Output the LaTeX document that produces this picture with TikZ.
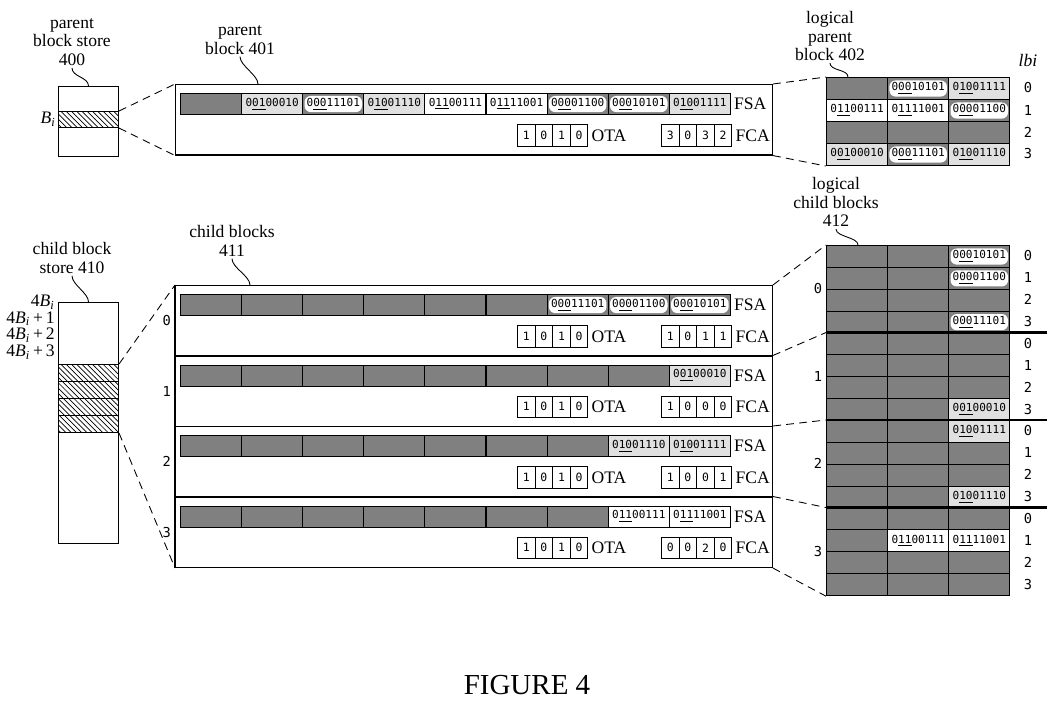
\documentclass[tikz,border=0pt]{standalone}
\usepackage{fontspec}
\setmainfont{Liberation Serif}
\newfontfamily\bitfont{DejaVu Sans Mono}
\usepackage{tikz}
\usetikzlibrary{patterns}
\colorlet{dk}{black!50}
\colorlet{lt}{black!12}
\newcommand\bitsu[3]{#1\underline{#2}#3}
\newcommand\Bi{\textit{B}\textsubscript{\textit{i}}}
% one block: name, top, last plain cell, filled cells, OTA, FCA
\newcommand\blk[6]{%
  \node[blkbox] (#1) at (175,#2) {};
  \foreach \k in {0,...,#3}
    \node[fsacell, fill=dk] (#1-\k) at ({180+61.1*\k},{#2+9}) {};
  \foreach \k/\f/\g/\s in {#4} {
    \node[fsacell, fill=\f] (#1-\k) at ({180+61.1*\k},{#2+9}) {};
    \node[bits, fill=\g] (#1-t\k) at (#1-\k) {\s};
  }
  \foreach \d [count=\j from 0] in {#5}
    \node[flag] (#1-o\j) at ({517+17.6*\j},{#2+40}) {\d};
  \foreach \d [count=\j from 0] in {#6}
    \node[flag] (#1-f\j) at ({661+17.6*\j},{#2+40}) {\d};
  \node[tag] (#1-fsa) at (#1-8.east) {FSA};
  \node[tag] (#1-ota) at (#1-o3.east) {OTA};
  \node[tag] (#1-fca) at (#1-f3.east) {FCA};
}

\begin{document}
\begin{tikzpicture}[
  x=0.02cm, y=-0.02cm, line width=0.6pt,
  lbl/.style={font=\fontsize{10}{10.6}\selectfont, align=center, inner sep=1pt},
  box/.style={draw, anchor=north west, inner sep=0, minimum width=1.2cm},
  blkbox/.style={draw, anchor=north west, inner sep=0,
                 minimum width=11.94cm, minimum height=1.41cm},
  fsacell/.style={draw, anchor=north west, inner sep=0,
                  minimum width=1.222cm, minimum height=0.42cm},
  gcell/.style={fsacell, minimum height=0.44cm},
  bits/.style={font=\bitfont\fontsize{6.3}{7}\selectfont, inner sep=1.2pt,
               rounded corners=3.5pt},
  flag/.style={draw, anchor=north west, inner sep=0, minimum width=0.352cm,
               minimum height=0.43cm, font=\bitfont\fontsize{6.5}{7}\selectfont},
  tag/.style={anchor=west, inner sep=1.5pt, font=\fontsize{10}{10}\selectfont},
  idx/.style={font=\bitfont\fontsize{7.8}{8}\selectfont},
  zoomline/.style={dash pattern=on 4.5pt off 3pt, line width=0.5pt},
  lead/.style={line width=0.5pt},
  sep/.style={line width=1.3pt}
]
\path[use as bounding box] (0,0) rectangle (1055,704);

% parent block store
\node[box, minimum height=1.4cm] (ps) at (58,86) {};
\node[box, minimum height=0.32cm, pattern=north west lines] (bi) at (58,111) {};
\node[lbl, anchor=east] (bil) at (bi.west) {\Bi};
\node[lbl] (l400) at (72,42) {parent\\block store\\400};
\draw[lead] (ps.north) .. controls +(0,-9) and +(0,9) .. (l400.south);

% parent block
\blk{pb}{84}{0}{1/lt/none/{\bitsu0{01}{00010}}, 2/dk/white/{\bitsu0{00}{11101}},
  3/lt/none/{\bitsu0{10}{01110}}, 4/white/none/{\bitsu0{11}{00111}},
  5/white/none/{\bitsu0{11}{11001}}, 6/dk/white/{\bitsu0{00}{01100}},
  7/dk/white/{\bitsu0{00}{10101}}, 8/lt/none/{\bitsu0{10}{01111}}}{1,0,1,0}{3,0,3,2}
\node[lbl] (l401) at (240,40) {parent\\block 401};
\coordinate (p401) at ([xshift=1.66cm]pb.north west);
\draw[lead] (p401) .. controls +(0,-9) and +(0,9) .. (l401.south);

% logical parent block
\foreach \r/\c/\f/\g/\s in {0/0/dk/none/{}, 0/1/dk/white/{\bitsu0{00}{10101}},
  0/2/lt/none/{\bitsu0{10}{01111}}, 1/0/white/none/{\bitsu0{11}{00111}},
  1/1/white/none/{\bitsu0{11}{11001}}, 1/2/dk/white/{\bitsu0{00}{01100}},
  2/0/dk/none/{}, 2/1/dk/none/{}, 2/2/dk/none/{},
  3/0/lt/none/{\bitsu0{01}{00010}}, 3/1/dk/white/{\bitsu0{00}{11101}},
  3/2/lt/none/{\bitsu0{10}{01110}}} {
  \node[gcell, fill=\f] (lp-\r-\c) at ({826+61.1*\c},{77+22*\r}) {};
  \node[bits, fill=\g] (lpt-\r-\c) at (lp-\r-\c) {\s};
}
\foreach \r in {0,...,3}
  \node[idx] (lpi\r) at (1028,{88+22*\r}) {\r};
\node[lbl, font=\fontsize{10}{10}\selectfont\itshape] (lbi) at (1028,60) {lbi};
\node[lbl] (l402) at (830,36) {logical\\parent\\block 402};
\coordinate (p402) at ([xshift=0.44cm]lp-0-0.north west);
\draw[lead] (p402) .. controls +(0,-8) and +(0,8) .. (l402.south);

\draw[zoomline] (bi.north east) -- (pb.north west);
\draw[zoomline] (bi.south east) -- (pb.south west);
\draw[zoomline] (pb.north east) -- (lp-0-0.north west);
\draw[zoomline] (pb.south east) -- (lp-3-0.south west);

% child block store
\node[box, minimum height=4.82cm] (cs) at (58,302) {};
\foreach \j in {0,...,3}
  \node[box, minimum height=0.34cm, pattern=north west lines] (cs\j) at (58,{364+17*\j}) {};
\foreach \t [count=\j from 0] in {{},{\,+\,1},{\,+\,2},{\,+\,3}}
  \node[lbl, anchor=east] (csl\j) at (57,{302+16.7*\j}) {4\Bi\t};
\node[lbl] (l410) at (72,258) {child block\\store 410};
\draw[lead] (cs.north) .. controls +(0,-9) and +(0,9) .. (l410.south);

% child blocks
\blk{cb0}{285}{5}{6/dk/white/{\bitsu0{00}{11101}}, 7/dk/white/{\bitsu0{00}{01100}},
  8/dk/white/{\bitsu0{00}{10101}}}{1,0,1,0}{1,0,1,1}
\blk{cb1}{355.5}{7}{8/lt/none/{\bitsu0{01}{00010}}}{1,0,1,0}{1,0,0,0}
\blk{cb2}{426}{6}{7/lt/none/{\bitsu0{10}{01110}}, 8/lt/none/{\bitsu0{10}{01111}}}{1,0,1,0}{1,0,0,1}
\blk{cb3}{496.5}{6}{7/white/none/{\bitsu0{11}{00111}}, 8/white/none/{\bitsu0{11}{11001}}}{1,0,1,0}{0,0,2,0}
\draw[line width=1.5pt] (cb0.north west) -- (cb3.south west);
\foreach \i in {0,...,3}
  \node[idx, anchor=east, inner sep=2pt] (ci\i) at (cb\i.west) {\i};
\node[lbl] (l411) at (232,241) {child blocks\\411};
\coordinate (p411) at ([xshift=1.5cm]cb0.north west);
\draw[lead] (p411) .. controls +(0,-9) and +(0,9) .. (l411.south);

% logical child blocks
\foreach \r in {0,...,15}
  \foreach \c in {0,1,2}
    \node[gcell, fill=dk] (lc-\r-\c) at ({826+61.1*\c},{245+21.875*\r}) {};
\foreach \r/\c/\f/\g/\s in {0/2/dk/white/{\bitsu0{00}{10101}},
  1/2/dk/white/{\bitsu0{00}{01100}}, 3/2/dk/white/{\bitsu0{00}{11101}},
  7/2/lt/none/{\bitsu0{01}{00010}}, 8/2/lt/none/{\bitsu0{10}{01111}},
  11/2/lt/none/{\bitsu0{10}{01110}}, 13/1/white/none/{\bitsu0{11}{00111}},
  13/2/white/none/{\bitsu0{11}{11001}}} {
  \node[gcell, fill=\f] (lco-\r-\c) at (lc-\r-\c.north west) {};
  \node[bits, fill=\g] (lct-\r-\c) at (lco-\r-\c) {\s};
}
\foreach \r in {0,...,15} {
  \pgfmathtruncatemacro\m{mod(\r,4)}
  \node[idx] (lci\r) at (1028,{245+21.875*(\r+0.5)}) {\m};
}
\foreach \g in {0,...,3}
  \node[idx] (lcg\g) at (818,{245+87.5*(\g+0.5)}) {\g};
\foreach \g in {1,2,3} {
  \pgfmathtruncatemacro\rr{4*\g}
  \draw[sep] (lc-\rr-0.north west) -- ++(221,0);
}
\node[lbl] (l412) at (836,202) {logical\\child blocks\\412};
\coordinate (p412) at ([xshift=0.64cm]lc-0-0.north west);
\draw[lead] (p412) .. controls +(0,-8) and +(0,8) .. (l412.south);

\draw[zoomline] (cs0.north east) -- (cb0.north west);
\draw[zoomline] (cs3.south east) -- (cb3.south west);
\draw[zoomline] (cb0.north east) -- (lc-0-0.north west);
\draw[zoomline] (cb1.north east) -- (lc-4-0.north west);
\draw[zoomline] (cb2.north east) -- (lc-8-0.north west);
\draw[zoomline] (cb3.north east) -- (lc-12-0.north west);
\draw[zoomline] (cb3.south east) -- (lc-15-0.south west);

\node[font=\fontsize{16.5}{18}\selectfont] (fig) at (527,685) {FIGURE 4};
\end{tikzpicture}
\end{document}
